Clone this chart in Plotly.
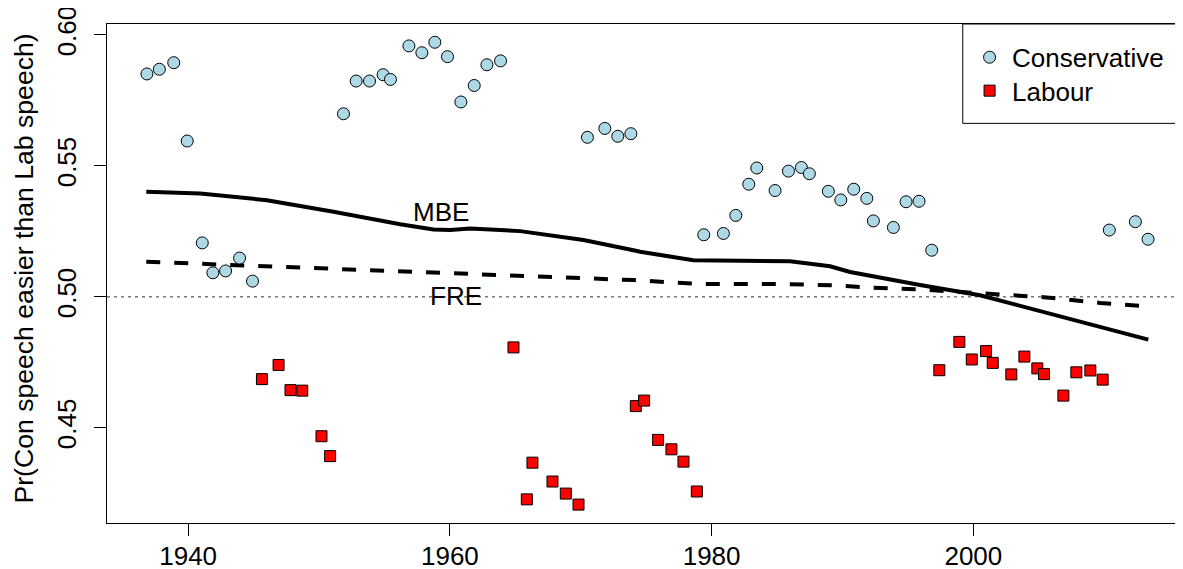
import plotly.graph_objects as go

# ---------------- data ----------------
con_years = [1936.85, 1937.80, 1938.90, 1939.93, 1941.08, 1941.89, 1942.86, 1943.93, 1944.92,
             1951.87, 1952.84, 1953.86, 1954.90, 1955.46, 1956.87, 1957.86, 1958.85, 1959.82,
             1960.84, 1961.86, 1962.83, 1963.87, 1970.51, 1971.84, 1972.83, 1973.83,
             1979.40, 1980.90, 1981.85, 1982.84, 1983.45, 1984.85, 1985.87, 1986.86, 1987.47,
             1988.92, 1989.87, 1990.86, 1991.86, 1992.36, 1993.89, 1994.86, 1995.85, 1996.82,
             2010.39, 2012.38, 2013.35]
con_values = [0.5851, 0.5869, 0.5894, 0.5595, 0.5206, 0.5092, 0.5099, 0.5148, 0.5060,
              0.5699, 0.5824, 0.5824, 0.5848, 0.5830, 0.5958, 0.5932, 0.5972, 0.5917,
              0.5744, 0.5807, 0.5886, 0.5901, 0.5609, 0.5643, 0.5613, 0.5623,
              0.5237, 0.5242, 0.5311, 0.5430, 0.5492, 0.5406, 0.5480, 0.5494, 0.5470,
              0.5403, 0.5370, 0.5411, 0.5376, 0.5290, 0.5265, 0.5363, 0.5365, 0.5178,
              0.5255, 0.5287, 0.5220]

lab_years = [1945.64, 1946.91, 1947.82, 1948.72, 1950.19, 1950.85, 1964.86, 1965.88, 1966.31,
             1967.84, 1968.86, 1969.83, 1974.21, 1974.84, 1975.91, 1976.93, 1977.85, 1978.87,
             1997.40, 1998.93, 1999.88, 2000.97, 2001.48, 2002.90, 2003.90, 2004.89, 2005.40,
             2006.88, 2007.87, 2008.94, 2009.88]
lab_values = [0.4686, 0.4740, 0.4644, 0.4642, 0.4468, 0.4392, 0.4807, 0.4227, 0.4367,
              0.4295, 0.4249, 0.4207, 0.4583, 0.4604, 0.4454, 0.4418, 0.4371, 0.4257,
              0.4720, 0.4828, 0.4761, 0.4793, 0.4748, 0.4704, 0.4772, 0.4727, 0.4705,
              0.4623, 0.4712, 0.4719, 0.4684]

mbe_years = [1936.80, 1940.93, 1946.02, 1951.11, 1956.20, 1958.75, 1960.02, 1961.55, 1965.37,
             1970.21, 1974.03, 1974.54, 1978.61, 1986.00, 1989.05, 1990.58, 1995.93, 2000.51,
             2013.37]
mbe_values = [0.5401, 0.5395, 0.5369, 0.5325, 0.5277, 0.5257, 0.5255, 0.5261, 0.5251,
              0.5217, 0.5178, 0.5172, 0.5140, 0.5136, 0.5117, 0.5095, 0.5045, 0.5006,
              0.4837]

fre_years = [1936.80, 1965.37, 1974.03, 1979.12, 1985.49, 1989.30, 1991.86, 1995.93, 2000.76,
             2005.61, 2009.68, 2013.37]
fre_values = [0.5134, 0.5083, 0.5064, 0.5049, 0.5049, 0.5044, 0.5036, 0.5028, 0.5013,
              0.4998, 0.4977, 0.4964]

x_ticks = [1940, 1960, 1980, 2000]
x_tick_labels = ["1940", "1960", "1980", "2000"]
y_ticks = [0.45, 0.50, 0.55, 0.60]
y_tick_labels = ["0.45", "0.50", "0.55", "0.60"]
reference_level = 0.5

series_names = ["Conservative", "Labour"]
line_labels = ["MBE", "FRE"]
y_title = "Pr(Con speech easier than Lab speech)"

# ---------------- layout geometry (screen pixels) ----------------
FONT = "Liberation Sans, Arial, Helvetica, sans-serif"
W, H = 1183, 569
OFF = 8                      # page body margin offsets the figure
PL, PR, PT, PB = 106.7, 1183.0, 24.0, 522.7   # plot box on screen
ML = PL - OFF
MT = PT - OFF
MR = W - (PR - OFF)
MB = H - (PB - OFF)


def px_x(sx):
    return (sx - PL) / (PR - PL)


def px_y(sy):
    return (PB - sy) / (PB - PT)


fig = go.Figure()

fig.add_trace(go.Scatter(
    x=mbe_years, y=mbe_values, mode="lines",
    line=dict(color="black", width=4), showlegend=False, hoverinfo="skip"))
fig.add_trace(go.Scatter(
    x=fre_years, y=fre_values, mode="lines",
    line=dict(color="black", width=4, dash="14px,14px"), showlegend=False, hoverinfo="skip"))

fig.add_trace(go.Scatter(
    x=con_years, y=con_values, mode="markers", name=series_names[0], legend="legend",
    marker=dict(symbol="circle", size=12, color="#ADD8E6", line=dict(color="black", width=1))))
fig.add_trace(go.Scatter(
    x=lab_years, y=lab_values, mode="markers", name=series_names[1], legend="legend2",
    marker=dict(symbol="square", size=11, color="#FF0000", line=dict(color="black", width=1))))

fig.add_hline(y=reference_level, line=dict(color="#333333", width=1, dash="3px,4px"), layer="below")

# line labels
fig.add_annotation(x=1959.3, y=0.5325, text=line_labels[0], showarrow=False,
                   font=dict(size=26, family=FONT, color="black"), xanchor="center", yanchor="middle")
fig.add_annotation(x=1960.5, y=0.5003, text=line_labels[1], showarrow=False,
                   font=dict(size=26, family=FONT, color="black"), xanchor="center", yanchor="middle")

# y title
fig.add_annotation(xref="paper", yref="paper", x=px_x(24), y=px_y(268),
                   text=y_title, textangle=-90, showarrow=False,
                   font=dict(size=26.6, family=FONT, color="black"),
                   xanchor="center", yanchor="middle")

# legend box (extends past right edge like the reference)
fig.add_shape(type="rect", xref="paper", yref="paper",
              x0=px_x(962.7), x1=1.2, y0=px_y(123.3), y1=1.0,
              line=dict(color="black", width=1), fillcolor="white", layer="below")

legend_common = dict(xanchor="left", yanchor="top", bgcolor="rgba(0,0,0,0)", borderwidth=0,
                     font=dict(size=26, family=FONT, color="black"), itemsizing="trace",
                     itemwidth=35)

fig.update_layout(
    template="none",
    width=W, height=H,
    margin=dict(l=ML, r=MR, t=MT, b=MB, pad=0, autoexpand=False),
    paper_bgcolor="white", plot_bgcolor="white",
    font=dict(family=FONT, size=26, color="black"),
    showlegend=True,
    legend=dict(x=px_x(967), y=px_y(57.3 - 23.5), **legend_common),
    legend2=dict(x=px_x(967), y=px_y(90.7 - 23.5), **legend_common),
    xaxis=dict(range=[1933.80, 2016.02], tickmode="array", tickvals=x_ticks, ticktext=x_tick_labels,
               ticks="outside", ticklen=12, tickwidth=1, tickcolor="black", automargin=False,
               showline=True, linecolor="black", linewidth=1, mirror=True,
               showgrid=False, zeroline=False, tickfont=dict(size=26, family=FONT),
               ticklabelstandoff=-2, ticklabeloverflow="allow"),
    yaxis=dict(range=[0.41367, 0.60417], tickmode="array", tickvals=y_ticks, ticktext=y_tick_labels,
               ticks="outside", ticklen=12, tickwidth=1, tickcolor="black", tickangle=-90,
               showline=True, linecolor="black", linewidth=1, mirror=False, automargin=False,
               showgrid=False, zeroline=False, tickfont=dict(size=26, family=FONT),
               ticklabelstandoff=8, ticklabeloverflow="allow"),
)

fig.write_html("out.html")
